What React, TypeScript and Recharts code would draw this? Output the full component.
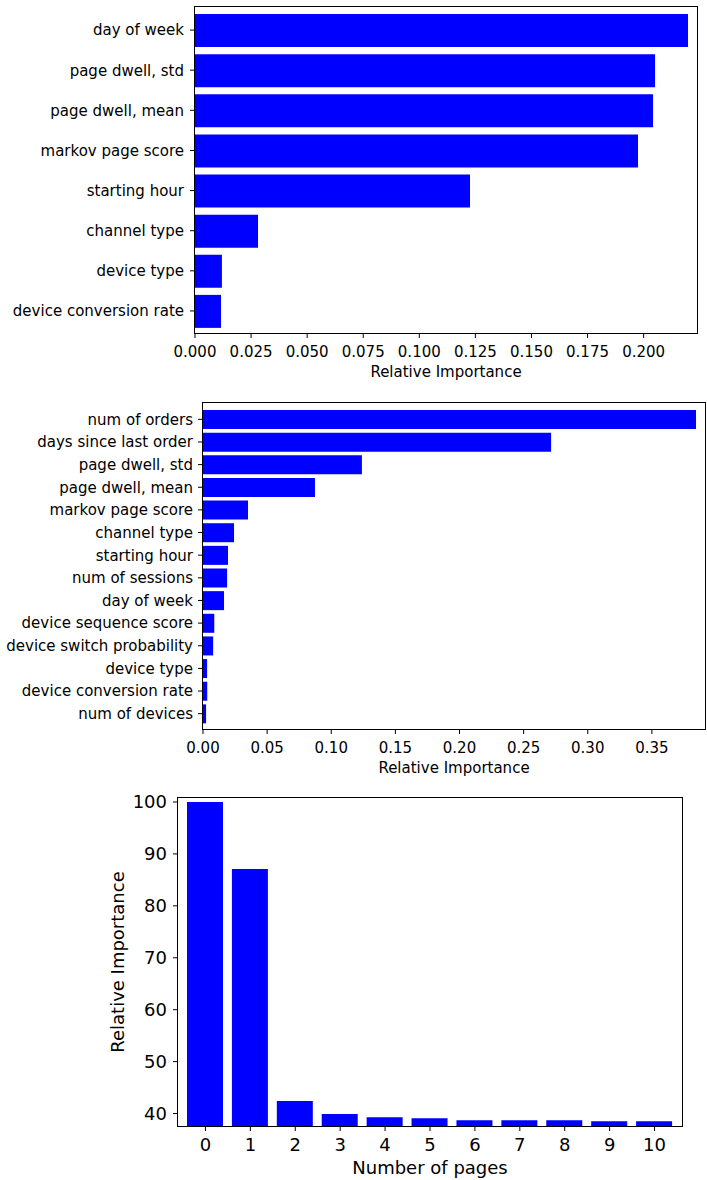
import { BarChart, Bar, XAxis, YAxis } from "recharts";

const FONT = "'DejaVu Sans', sans-serif";
const BLUE = "#0000ff";

// chart 1 - session level features
const sessionFeatures = [
  "day of week",
  "page dwell, std",
  "page dwell, mean",
  "markov page score",
  "starting hour",
  "channel type",
  "device type",
  "device conversion rate",
];
const sessionImportance = [0.2198, 0.2051, 0.2042, 0.1975, 0.1226, 0.0281, 0.012, 0.0116];
const sessionTicks = [0, 0.025, 0.05, 0.075, 0.1, 0.125, 0.15, 0.175, 0.2];

// chart 2 - user level features
const userFeatures = [
  "num of orders",
  "days since last order",
  "page dwell, std",
  "page dwell, mean",
  "markov page score",
  "channel type",
  "starting hour",
  "num of sessions",
  "day of week",
  "device sequence score",
  "device switch probability",
  "device type",
  "device conversion rate",
  "num of devices",
];
const userImportance = [
  0.3844, 0.2714, 0.1239, 0.0873, 0.0351, 0.0242, 0.0195, 0.0188, 0.0164, 0.0088, 0.0079, 0.0032,
  0.0033, 0.0024,
];
const userTicks = [0, 0.05, 0.1, 0.15, 0.2, 0.25, 0.3, 0.35];

// chart 3 - importance by number of pages
const pageCounts = ["0", "1", "2", "3", "4", "5", "6", "7", "8", "9", "10"];
const pageImportance = [100, 87.1, 42.4, 39.9, 39.3, 39.1, 38.7, 38.7, 38.7, 38.5, 38.5];
const pageTicks = [40, 50, 60, 70, 80, 90, 100];

const sessionData = sessionFeatures.map((name, i) => ({ name, value: sessionImportance[i] }));
const userData = userFeatures.map((name, i) => ({ name, value: userImportance[i] }));
const pageData = pageCounts.map((name, i) => ({ name, value: pageImportance[i] }));

const Frame = ({ left, top, right, bottom }: { left: number; top: number; right: number; bottom: number }) => (
  <div
    style={{
      position: "absolute",
      left: left - 1,
      top: top - 1,
      width: right - left + 2,
      height: bottom - top + 2,
      border: "1px solid #000",
      boxSizing: "border-box",
      pointerEvents: "none",
    }}
  />
);

const small = { fill: "#000", fontSize: 15, fontFamily: FONT };
const big = { fill: "#000", fontSize: 18, fontFamily: FONT };

export default function App() {
  return (
    <div style={{ position: "absolute", left: 0, top: 0, width: 707, height: 1180, background: "#fff", fontFamily: FONT }}>
      <div style={{ position: "absolute", left: 0, top: 0 }}>
        <BarChart width={707} height={390} data={sessionData} layout="vertical" margin={{ top: 7, right: 10, bottom: 0, left: 0 }}>
          <XAxis
            type="number"
            dataKey="value"
            domain={[0, 0.2238]}
            ticks={sessionTicks}
            tickFormatter={(v) => v.toFixed(3)}
            tick={small}
            tickSize={5}
            tickMargin={8}
            tickLine={{ stroke: "#000" }}
            axisLine={false}
            height={57}
            label={{ value: "Relative Importance", position: "insideBottom", offset: 13, fill: "#000", fontSize: 15 }}
          />
          <YAxis
            type="category"
            dataKey="name"
            width={195}
            tick={small}
            tickSize={5}
            tickMargin={6}
            tickLine={{ stroke: "#000" }}
            axisLine={false}
            interval={0}
            padding={{ top: 3, bottom: 2 }}
          />
          <Bar dataKey="value" fill={BLUE} barSize={33} isAnimationActive={false} />
        </BarChart>
        <Frame left={195} top={7} right={697} bottom={333} />
      </div>

      <div style={{ position: "absolute", left: 0, top: 390 }}>
        <BarChart width={707} height={390} data={userData} layout="vertical" margin={{ top: 13, right: 2, bottom: 0, left: 0 }}>
          <XAxis
            type="number"
            dataKey="value"
            domain={[0, 0.3914]}
            ticks={userTicks}
            tickFormatter={(v) => v.toFixed(2)}
            tick={small}
            tickSize={5}
            tickMargin={8}
            tickLine={{ stroke: "#000" }}
            axisLine={false}
            height={51}
            label={{ value: "Relative Importance", position: "insideBottom", offset: 7, fill: "#000", fontSize: 15 }}
          />
          <YAxis
            type="category"
            dataKey="name"
            width={203}
            tick={small}
            tickSize={5}
            tickMargin={5}
            tickLine={{ stroke: "#000" }}
            axisLine={false}
            interval={0}
            padding={{ top: 5, bottom: 4 }}
          />
          <Bar dataKey="value" fill={BLUE} barSize={19} isAnimationActive={false} />
        </BarChart>
        <Frame left={203} top={13} right={705} bottom={339} />
      </div>

      <div style={{ position: "absolute", left: 0, top: 780 }}>
        <BarChart width={707} height={400} data={pageData} margin={{ top: 18, right: 25, bottom: 0, left: 0 }} barCategoryGap={0}>
          <XAxis
            type="category"
            dataKey="name"
            tick={big}
            tickSize={5}
            tickMargin={7}
            tickLine={{ stroke: "#000" }}
            axisLine={false}
            interval={0}
            height={54}
            padding={{ left: 5, right: 5 }}
            label={{ value: "Number of pages", position: "insideBottom", offset: 6, fill: "#000", fontSize: 18 }}
          />
          <YAxis
            type="number"
            domain={[37.6, 100.77]}
            ticks={pageTicks}
            allowDataOverflow
            width={178}
            tick={big}
            tickSize={5}
            tickMargin={6}
            tickLine={{ stroke: "#000" }}
            axisLine={false}
            label={{
              value: "Relative Importance",
              angle: -90,
              position: "insideLeft",
              offset: 118,
              fill: "#000",
              fontSize: 18,
              style: { textAnchor: "middle" },
            }}
          />
          <Bar dataKey="value" fill={BLUE} barSize={36} isAnimationActive={false} />
        </BarChart>
        <Frame left={178} top={18} right={682} bottom={346} />
      </div>
    </div>
  );
}
